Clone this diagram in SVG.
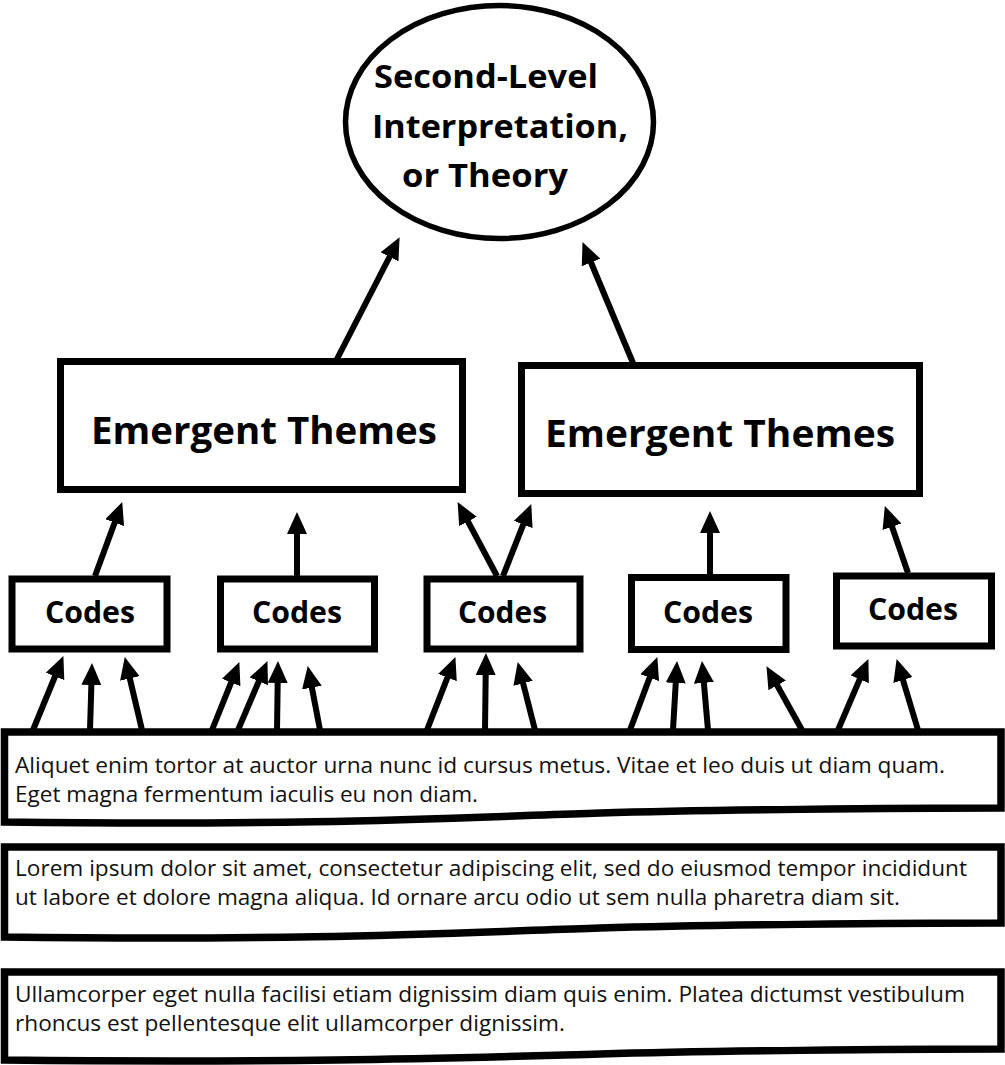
<svg xmlns="http://www.w3.org/2000/svg" width="1005" height="1065" viewBox="0 0 1005 1065">
<style>
.bg{fill:#fff}
.box{fill:#fff;stroke:#000;stroke-width:7}
.doc{fill:#fff;stroke:#000;stroke-width:7.5;stroke-linejoin:miter}
.ell{fill:#fff;stroke:#000;stroke-width:5.5}
.conn line{stroke:#000;stroke-width:6;stroke-linecap:butt}
.title{font-family:"Open Sans","Noto Sans","Liberation Sans",sans-serif;font-weight:700;fill:#000}
.body{font-family:"Open Sans","Noto Sans","Liberation Sans",sans-serif;font-size:22.5px;fill:#111}
</style>
<defs>
<marker id="ah" markerUnits="userSpaceOnUse" markerWidth="22" markerHeight="20" viewBox="0 0 22 20" refX="1" refY="10" orient="auto">
<path d="M0,0 L22,10 L0,20 z" fill="#000"/>
</marker>
</defs>
<rect class="bg" x="0" y="0" width="1005" height="1065"/>

<g id="theory">
<ellipse class="ell" cx="499.5" cy="122" rx="154" ry="116.5"/>
<text class="title" font-size="33" x="374" y="88" textLength="224" lengthAdjust="spacingAndGlyphs">Second-Level</text>
<text class="title" font-size="33" x="372" y="138" textLength="256" lengthAdjust="spacingAndGlyphs">Interpretation,</text>
<text class="title" font-size="33" x="402" y="187" textLength="166" lengthAdjust="spacingAndGlyphs">or Theory</text>
</g>

<g id="themes1">
<rect class="box" x="60.5" y="361.5" width="402" height="128"/>
<text class="title" font-size="37" x="91" y="444" textLength="346" lengthAdjust="spacingAndGlyphs">Emergent Themes</text>
</g>
<g id="themes2">
<rect class="box" x="521.5" y="365.5" width="398" height="128"/>
<text class="title" font-size="37" x="545" y="447" textLength="350" lengthAdjust="spacingAndGlyphs">Emergent Themes</text>
</g>

<g id="codes1">
<rect class="box" x="12" y="579" width="155" height="70"/>
<text class="title" font-size="30" x="45" y="623" textLength="90" lengthAdjust="spacingAndGlyphs">Codes</text>
</g>
<g id="codes2">
<rect class="box" x="220.5" y="579" width="154" height="70"/>
<text class="title" font-size="30" x="252" y="623" textLength="90" lengthAdjust="spacingAndGlyphs">Codes</text>
</g>
<g id="codes3">
<rect class="box" x="427" y="579" width="153" height="70"/>
<text class="title" font-size="30" x="458" y="623" textLength="89" lengthAdjust="spacingAndGlyphs">Codes</text>
</g>
<g id="codes4">
<rect class="box" x="631.5" y="577.5" width="154.5" height="72"/>
<text class="title" font-size="30" x="663" y="623" textLength="90" lengthAdjust="spacingAndGlyphs">Codes</text>
</g>
<g id="codes5">
<rect class="box" x="836.5" y="576" width="155" height="70"/>
<text class="title" font-size="30" x="868" y="620" textLength="90" lengthAdjust="spacingAndGlyphs">Codes</text>
</g>

<g id="data1">
<path class="doc" d="M4.5,732 L1001,732 L1001,808 C900,808 700,810 600,813 C450,818 300,826 4.5,822 Z"/>
<text class="body" x="15" y="773" textLength="930" lengthAdjust="spacingAndGlyphs">Aliquet enim tortor at auctor urna nunc id cursus metus. Vitae et leo duis ut diam quam.</text>
<text class="body" x="15" y="802" textLength="463" lengthAdjust="spacingAndGlyphs">Eget magna fermentum iaculis eu non diam.</text>
</g>
<g id="data2">
<path class="doc" d="M4.5,847 L1001,847 L1001,923 C900,923 700,925 600,928 C450,933 300,941 4.5,937 Z"/>
<text class="body" x="15" y="876" textLength="952" lengthAdjust="spacingAndGlyphs">Lorem ipsum dolor sit amet, consectetur adipiscing elit, sed do eiusmod tempor incididunt</text>
<text class="body" x="15" y="905" textLength="885" lengthAdjust="spacingAndGlyphs">ut labore et dolore magna aliqua. Id ornare arcu odio ut sem nulla pharetra diam sit.</text>
</g>
<g id="data3">
<path class="doc" d="M4.5,972 L1001,972 L1001,1049 C900,1049 700,1051 600,1054 C450,1058 300,1063 4.5,1060 Z"/>
<text class="body" x="15" y="1002" textLength="950" lengthAdjust="spacingAndGlyphs">Ullamcorper eget nulla facilisi etiam dignissim diam quis enim. Platea dictumst vestibulum</text>
<text class="body" x="15" y="1031" textLength="550" lengthAdjust="spacingAndGlyphs">rhoncus est pellentesque elit ullamcorper dignissim.</text>
</g>

<g id="connectors" class="conn" marker-end="url(#ah)">
<line x1="337" y1="359" x2="390" y2="256"/>
<line x1="633" y1="363" x2="590.6" y2="261.5"/>
<line x1="95" y1="576" x2="115" y2="521.7"/>
<line x1="297" y1="576" x2="297" y2="533"/>
<line x1="497" y1="576" x2="467.5" y2="520.6"/>
<line x1="503" y1="576" x2="523.6" y2="523.6"/>
<line x1="710" y1="575" x2="710" y2="532"/>
<line x1="908" y1="573" x2="891.7" y2="525.8"/>
<line x1="33" y1="730" x2="55.4" y2="675.5"/>
<line x1="90" y1="730" x2="91.4" y2="684"/>
<line x1="142" y1="730" x2="129.6" y2="677.5"/>
<line x1="212" y1="730" x2="231.5" y2="681.6"/>
<line x1="238" y1="730" x2="259.2" y2="680.4"/>
<line x1="277" y1="730" x2="277.7" y2="682"/>
<line x1="320" y1="730" x2="311.7" y2="686.6"/>
<line x1="427" y1="730" x2="447.8" y2="676.6"/>
<line x1="485" y1="730" x2="485.7" y2="674"/>
<line x1="535" y1="730" x2="522.9" y2="682.4"/>
<line x1="630" y1="730" x2="650" y2="676.7"/>
<line x1="673" y1="730" x2="675.8" y2="682"/>
<line x1="708" y1="730" x2="703.8" y2="681.9"/>
<line x1="802" y1="730" x2="776.7" y2="684.5"/>
<line x1="838" y1="730" x2="860.1" y2="678.4"/>
<line x1="918" y1="730" x2="902.7" y2="679.1"/>
</g>
</svg>
